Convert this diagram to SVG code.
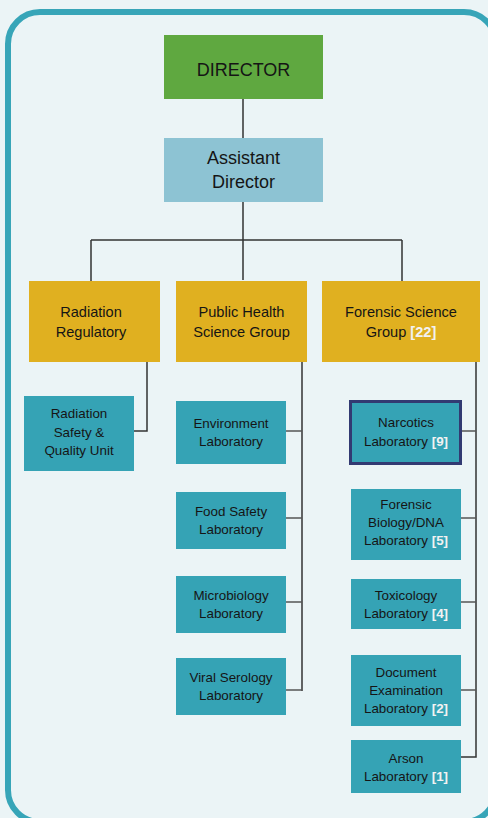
<svg xmlns="http://www.w3.org/2000/svg" width="488" height="818" viewBox="0 0 488 818">
<style>
text{font-family:"Liberation Sans",Arial,sans-serif;fill:#151515;text-anchor:middle}
.t1{font-size:18px}
.t2{font-size:14.6px}
.t3{font-size:13.4px}
.w{fill:#F2F2F2;font-weight:bold}
.top{fill:#5FA840}
.asst{fill:#8DC3D3}
.grp{fill:#E0B020}
.lab{fill:#35A3B5}
.ln{stroke:#333;stroke-width:1.5;fill:none}
.br{stroke:#555;stroke-width:1.3;fill:none}
</style>
<rect x="0" y="0" width="488" height="818" fill="#EBF4F6"/>
<rect x="8" y="12" width="488" height="810" rx="32" ry="32" fill="none" stroke="#37A5B8" stroke-width="6"/>
<g id="connectors">
<path class="ln" d="M243 99V138M243 202V280M91 240H402M91 240V281M402 240V281"/>
<path class="ln" d="M147 362V431H134"/>
<path class="ln" d="M302 362V691"/>
<path class="br" d="M286 431H302M286 518H302M286 602H302M286 690H302"/>
<path class="ln" d="M476 362V757H461"/>
<path class="br" d="M462 431H476M461 518H476M461 602H476M461 690H476"/>
</g>
<g id="director"><rect class="top" x="164" y="35" width="159" height="64"/><text class="t1" x="243.5" y="76">DIRECTOR</text></g>
<g id="assistant"><rect class="asst" x="164" y="138" width="159" height="64"/><text class="t1" x="243.5" y="164">Assistant</text><text class="t1" x="243.5" y="188">Director</text></g>
<g id="radiation"><rect class="grp" x="29" y="281" width="131" height="81"/><text class="t2" x="91" y="317">Radiation</text><text class="t2" x="91" y="337">Regulatory</text></g>
<g id="publichealth"><rect class="grp" x="176" y="281" width="131" height="81"/><text class="t2" x="241.5" y="317">Public Health</text><text class="t2" x="241.5" y="337">Science Group</text></g>
<g id="forensic"><rect class="grp" x="322" y="281" width="158" height="81"/><text class="t2" x="401" y="317">Forensic Science</text><text class="t2" x="401" y="337">Group <tspan class="w">[22]</tspan></text></g>
<g id="radsafety"><rect class="lab" x="24" y="396" width="110" height="75"/><text class="t3" x="79" y="418">Radiation</text><text class="t3" x="79" y="437">Safety &amp;</text><text class="t3" x="79" y="455">Quality Unit</text></g>
<g id="environment"><rect class="lab" x="176" y="401" width="110" height="63"/><text class="t3" x="231" y="428">Environment</text><text class="t3" x="231" y="446">Laboratory</text></g>
<g id="foodsafety"><rect class="lab" x="176" y="492" width="110" height="57"/><text class="t3" x="231" y="516">Food Safety</text><text class="t3" x="231" y="534">Laboratory</text></g>
<g id="microbiology"><rect class="lab" x="176" y="576" width="110" height="57"/><text class="t3" x="231" y="600">Microbiology</text><text class="t3" x="231" y="618">Laboratory</text></g>
<g id="viral"><rect class="lab" x="176" y="658" width="110" height="57"/><text class="t3" x="231" y="682">Viral Serology</text><text class="t3" x="231" y="700">Laboratory</text></g>
<g id="narcotics"><rect class="lab" x="350.5" y="401.5" width="110" height="62" stroke="#323A72" stroke-width="3"/><text class="t3" x="406" y="427">Narcotics</text><text class="t3" x="406" y="446">Laboratory <tspan class="w">[9]</tspan></text></g>
<g id="dna"><rect class="lab" x="351" y="489" width="110" height="71"/><text class="t3" x="406" y="509">Forensic</text><text class="t3" x="406" y="527">Biology/DNA</text><text class="t3" x="406" y="545">Laboratory <tspan class="w">[5]</tspan></text></g>
<g id="toxicology"><rect class="lab" x="351" y="579" width="110" height="50"/><text class="t3" x="406" y="600">Toxicology</text><text class="t3" x="406" y="618">Laboratory <tspan class="w">[4]</tspan></text></g>
<g id="document"><rect class="lab" x="351" y="655" width="110" height="71"/><text class="t3" x="406" y="677">Document</text><text class="t3" x="406" y="695">Examination</text><text class="t3" x="406" y="713">Laboratory <tspan class="w">[2]</tspan></text></g>
<g id="arson"><rect class="lab" x="351" y="740" width="110" height="53"/><text class="t3" x="406" y="763">Arson</text><text class="t3" x="406" y="781">Laboratory <tspan class="w">[1]</tspan></text></g>
</svg>
